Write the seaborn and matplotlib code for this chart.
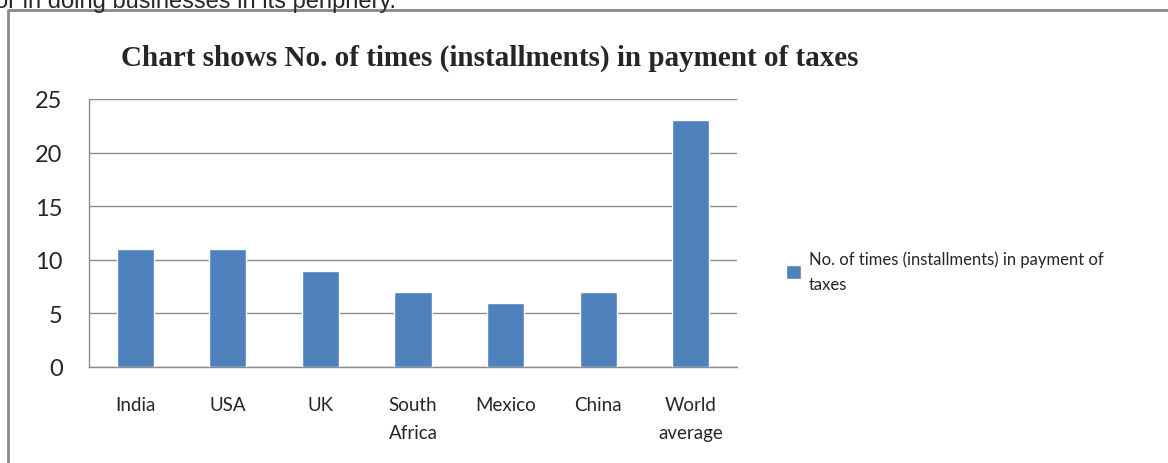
import matplotlib.pyplot as plt
import matplotlib.lines as mlines
import seaborn as sns
import pandas as pd
import numpy as np

countries = ['India', 'USA', 'UK', 'South\nAfrica', 'Mexico', 'China', 'World\naverage']
installments = [11, 11, 9, 7, 6, 7, 23]
series_name = 'No. of times (installments) in payment of\ntaxes'
title = 'Chart shows No. of times (installments) in payment of taxes'
bar_color = '#4F81BD'
grid_color = '#8C8C8C'

df = pd.DataFrame({'country': countries, 'value': installments})

sns.set_style('white')
plt.rcParams['font.family'] = ['Lato', 'DejaVu Sans']

fig = plt.figure(figsize=(11.68, 4.64), dpi=100)
ax = fig.add_axes([89/1168, 1-368/464, 648/1168, 268/464])

sns.barplot(data=df, x='country', y='value', color=bar_color, width=0.4,
            saturation=1, ax=ax, label=series_name, zorder=3)
if ax.get_legend() is not None:
    ax.get_legend().remove()

ax.set_ylim(0, 25)
ax.set_xlim(-0.5, len(countries) - 0.5)
ax.set_yticks(range(0, 26, 5))
ax.yaxis.grid(True, color=grid_color, lw=1, zorder=0)
ax.set_xlabel('')
ax.set_ylabel('')

# category boundary ticks
ax.set_xticks(np.arange(len(countries)), labels=countries)
ax.tick_params(axis='x', which='major', length=0, pad=21, labelsize=13.5)
ax.set_xticks(np.arange(-0.5, len(countries)), minor=True)
ax.tick_params(axis='x', which='minor', length=6, width=1, color=grid_color, direction='out')
ax.tick_params(axis='y', length=8, width=1, color=grid_color, direction='out', labelsize=17, pad=11)
for lab in ax.get_xticklabels():
    lab.set_linespacing(1.75)
    lab.set_verticalalignment('top')

for side in ['top', 'right']:
    ax.spines[side].set_visible(False)
for side in ['left', 'bottom']:
    ax.spines[side].set_color(grid_color)
    ax.spines[side].set_linewidth(1)

fig.text(490/1168, 1-58/464, title, ha='center', va='center', fontsize=21,
         fontweight='bold', family='Liberation Serif')

leg = fig.legend(handles=ax.patches[:1], labels=[series_name], loc='upper left',
                 bbox_to_anchor=(779/1168, 1-245/464), frameon=False,
                 fontsize=12, handlelength=0.9, handleheight=0.9, handletextpad=0.5,
                 borderaxespad=0)
for t in leg.get_texts():
    t.set_linespacing(1.7)

# clipped text of the surrounding page and the chart border
fig.text(-0.004, 1-8/464, 'or in doing businesses in its periphery.', ha='left', va='baseline',
         fontsize=17, family='Liberation Sans')
fig.add_artist(mlines.Line2D([8/1168, 8/1168, 1.0], [0.0, 1-11/464, 1-11/464],
                             transform=fig.transFigure, color='#888888', lw=2))

fig.savefig('out.png', dpi=100)
